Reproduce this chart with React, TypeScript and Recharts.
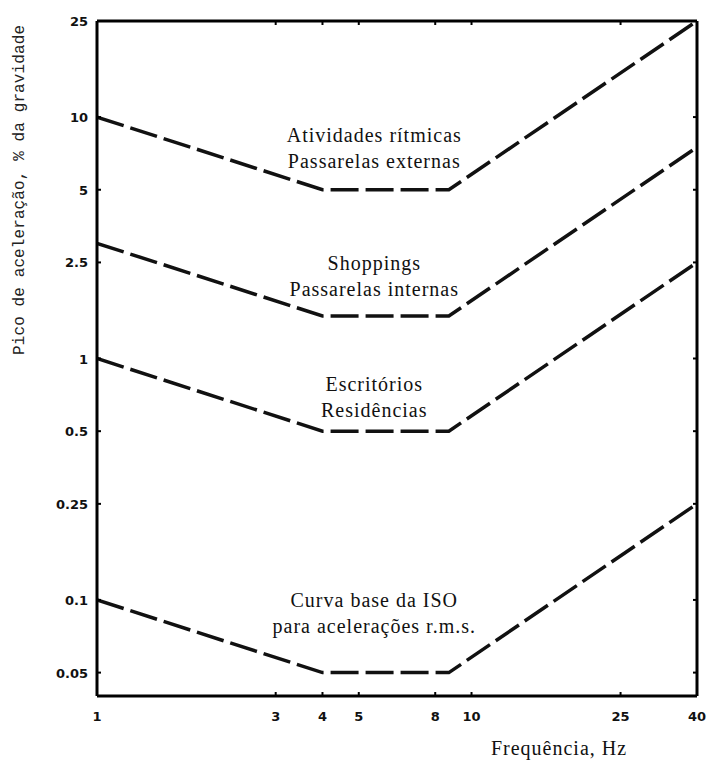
import { LineChart, Line, XAxis, YAxis, ReferenceLine, ReferenceDot } from "recharts";

// frequencies (Hz) where the curves bend
const freq = [1, 4, 8.7, 40];
// peak acceleration, % of gravity
const rhythmic = [10, 5, 5, 25];
const shopping = [3, 1.5, 1.5, 7.5];
const offices = [1, 0.5, 0.5, 2.5];
const isoBase = [0.1, 0.05, 0.05, 0.25];

const xTicks = [1, 3, 4, 5, 8, 10, 25, 40];
const yTicks = [0.05, 0.1, 0.25, 0.5, 1, 2.5, 5, 10, 25];

// annotation anchors: frequency, curve level, text lines
const noteFreq = [5.5, 5.5, 5.5, 5.5];
const noteLevel = [5, 1.5, 0.5, 0.05];
const noteLines = [
    ["Atividades rítmicas", "Passarelas externas"],
    ["Shoppings", "Passarelas internas"],
    ["Escritórios", "Residências"],
    ["Curva base da ISO", "para acelerações r.m.s."],
];
const noteOffset = [-55, -53, -47, -73];

const data = freq.map((f, i) => ({
    f,
    rhythmic: rhythmic[i],
    shopping: shopping[i],
    offices: offices[i],
    iso: isoBase[i],
}));

const PLOT_TOP = 21;
const PLOT_RIGHT = 697;
const SERIF = "'Liberation Serif', 'Times New Roman', serif";
const TICK_FONT = "'DejaVu Sans', Arial, sans-serif";

const XTick = ({ x, y, payload }: any) => (
    <g>
        <line x1={x} x2={x} y1={y} y2={y - 4} stroke="#000" strokeWidth={2} />
        <line x1={x} x2={x} y1={PLOT_TOP} y2={PLOT_TOP + 4} stroke="#000" strokeWidth={2} />
        <text x={x} y={y + 25} textAnchor="middle" fontFamily={TICK_FONT} fontWeight="bold" fontSize={13} fill="#111">
            {payload.value}
        </text>
    </g>
);

const YTick = ({ x, y, payload }: any) => (
    <g>
        <line x1={x} x2={x + 4} y1={y} y2={y} stroke="#000" strokeWidth={2} />
        <line x1={PLOT_RIGHT - 4} x2={PLOT_RIGHT} y1={y} y2={y} stroke="#000" strokeWidth={2} />
        <text x={x - 9} y={y + 5} textAnchor="end" fontFamily={TICK_FONT} fontWeight="bold" fontSize={13} fill="#111">
            {payload.value}
        </text>
    </g>
);

const noteLabel = (lines: string[], offset: number) => (props: any) => {
    const vb = props.viewBox || {};
    return (
        <text textAnchor="middle" fontFamily={SERIF} fontSize={20} letterSpacing={1} fill="#111">
            {lines.map((t, k) => (
                <tspan key={t} x={vb.x} y={vb.y + offset + k * 26 + 7}>
                    {t}
                </tspan>
            ))}
        </text>
    );
};

const lineProps = {
    type: "linear" as const,
    stroke: "#111",
    strokeWidth: 3.5,
    strokeDasharray: "28 7",
    dot: false,
    activeDot: false,
    isAnimationActive: false,
};

export default function App() {
    return (
        <div style={{ position: "absolute", left: 0, top: 0, width: 707, height: 762, background: "#fff" }}>
            <LineChart width={707} height={762} data={data} margin={{ top: PLOT_TOP, right: 10, bottom: 0, left: 0 }}>
                <XAxis
                    dataKey="f"
                    type="number"
                    scale="log"
                    domain={[1, 40]}
                    ticks={xTicks}
                    interval={0}
                    allowDataOverflow
                    height={66}
                    tickSize={0}
                    tickMargin={0}
                    tickLine={false}
                    axisLine={{ stroke: "#000", strokeWidth: 3 }}
                    tick={<XTick />}
                    label={() => (
                        <text x={559} y={755} textAnchor="middle" fontFamily={SERIF} fontSize={20} letterSpacing={1} fill="#111">
                            Frequência, Hz
                        </text>
                    )}
                />
                <YAxis
                    type="number"
                    scale="log"
                    domain={[0.04, 25]}
                    ticks={yTicks}
                    interval={0}
                    allowDataOverflow
                    width={97}
                    tickSize={0}
                    tickMargin={0}
                    tickLine={false}
                    axisLine={{ stroke: "#000", strokeWidth: 3 }}
                    tick={<YTick />}
                    label={() => (
                        <text
                            x={24}
                            y={190}
                            transform="rotate(-90 24 190)"
                            textAnchor="middle"
                            fontFamily="'Liberation Mono', 'Courier New', monospace"
                            fontSize={16}
                            textLength={330}
                            lengthAdjust="spacing"
                            fill="#222"
                        >
                            Pico de aceleração, % da gravidade
                        </text>
                    )}
                />
                <ReferenceLine y={25} stroke="#000" strokeWidth={3} />
                <ReferenceLine x={40} stroke="#000" strokeWidth={3} />
                <Line dataKey="rhythmic" {...lineProps} />
                <Line dataKey="shopping" {...lineProps} />
                <Line dataKey="offices" {...lineProps} />
                <Line dataKey="iso" {...lineProps} />
                {noteLines.map((lines, i) => (
                    <ReferenceDot
                        key={i}
                        x={noteFreq[i]}
                        y={noteLevel[i]}
                        r={0}
                        fill="none"
                        stroke="none"
                        label={noteLabel(lines, noteOffset[i])}
                    />
                ))}
            </LineChart>
        </div>
    );
}
